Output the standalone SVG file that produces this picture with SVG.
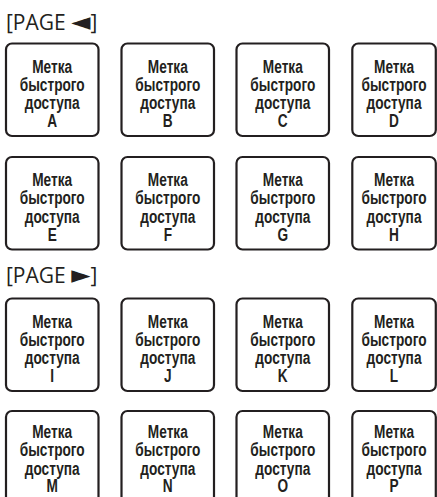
<svg xmlns="http://www.w3.org/2000/svg" width="437" height="497" viewBox="0 0 437 497">
<style>
.pad{fill:#ffffff;stroke:#231f20;stroke-width:2.2}
.lbl{font-family:"Liberation Sans",Arial,sans-serif;font-weight:bold;font-size:19px;fill:#231f20;text-anchor:middle}
.hdr{font-family:"Open Sans","DejaVu Sans",sans-serif;font-size:21px;fill:#231f20}
.tri{font-family:"DejaVu Sans",sans-serif;font-size:25px}
</style>
<rect width="437" height="497" fill="#ffffff"/>
<text class="hdr" x="6" y="30">[PAGE <tspan class="tri">◄</tspan>]</text>
<text class="hdr" x="6" y="283">[PAGE <tspan class="tri">►</tspan>]</text>
<g id="pad-A"><rect class="pad" x="6" y="43.5" width="92.5" height="92.5" rx="6"/><text class="lbl" transform="translate(52.2 43.5) scale(0.72 1)"><tspan x="0" y="29.5">Метка</tspan><tspan x="0" y="47.5">быстрого</tspan><tspan x="0" y="66">доступа</tspan><tspan x="0" y="84">A</tspan></text></g>
<g id="pad-B"><rect class="pad" x="121.5" y="43.5" width="92.5" height="92.5" rx="6"/><text class="lbl" transform="translate(167.8 43.5) scale(0.72 1)"><tspan x="0" y="29.5">Метка</tspan><tspan x="0" y="47.5">быстрого</tspan><tspan x="0" y="66">доступа</tspan><tspan x="0" y="84">B</tspan></text></g>
<g id="pad-C"><rect class="pad" x="236.5" y="43.5" width="92.5" height="92.5" rx="6"/><text class="lbl" transform="translate(282.8 43.5) scale(0.72 1)"><tspan x="0" y="29.5">Метка</tspan><tspan x="0" y="47.5">быстрого</tspan><tspan x="0" y="66">доступа</tspan><tspan x="0" y="84">C</tspan></text></g>
<g id="pad-D"><rect class="pad" x="352.3" y="43.5" width="83.5" height="92.5" rx="6"/><text class="lbl" transform="translate(394 43.5) scale(0.72 1)"><tspan x="0" y="29.5">Метка</tspan><tspan x="0" y="47.5">быстрого</tspan><tspan x="0" y="66">доступа</tspan><tspan x="0" y="84">D</tspan></text></g>
<g id="pad-E"><rect class="pad" x="6" y="157" width="92.5" height="92.5" rx="6"/><text class="lbl" transform="translate(52.2 157) scale(0.72 1)"><tspan x="0" y="29.5">Метка</tspan><tspan x="0" y="47.5">быстрого</tspan><tspan x="0" y="66">доступа</tspan><tspan x="0" y="84">E</tspan></text></g>
<g id="pad-F"><rect class="pad" x="121.5" y="157" width="92.5" height="92.5" rx="6"/><text class="lbl" transform="translate(167.8 157) scale(0.72 1)"><tspan x="0" y="29.5">Метка</tspan><tspan x="0" y="47.5">быстрого</tspan><tspan x="0" y="66">доступа</tspan><tspan x="0" y="84">F</tspan></text></g>
<g id="pad-G"><rect class="pad" x="236.5" y="157" width="92.5" height="92.5" rx="6"/><text class="lbl" transform="translate(282.8 157) scale(0.72 1)"><tspan x="0" y="29.5">Метка</tspan><tspan x="0" y="47.5">быстрого</tspan><tspan x="0" y="66">доступа</tspan><tspan x="0" y="84">G</tspan></text></g>
<g id="pad-H"><rect class="pad" x="352.3" y="157" width="83.5" height="92.5" rx="6"/><text class="lbl" transform="translate(394 157) scale(0.72 1)"><tspan x="0" y="29.5">Метка</tspan><tspan x="0" y="47.5">быстрого</tspan><tspan x="0" y="66">доступа</tspan><tspan x="0" y="84">H</tspan></text></g>
<g id="pad-I"><rect class="pad" x="6" y="298.5" width="92.5" height="92.5" rx="6"/><text class="lbl" transform="translate(52.2 298.5) scale(0.72 1)"><tspan x="0" y="29.5">Метка</tspan><tspan x="0" y="47.5">быстрого</tspan><tspan x="0" y="66">доступа</tspan><tspan x="0" y="84">I</tspan></text></g>
<g id="pad-J"><rect class="pad" x="121.5" y="298.5" width="92.5" height="92.5" rx="6"/><text class="lbl" transform="translate(167.8 298.5) scale(0.72 1)"><tspan x="0" y="29.5">Метка</tspan><tspan x="0" y="47.5">быстрого</tspan><tspan x="0" y="66">доступа</tspan><tspan x="0" y="84">J</tspan></text></g>
<g id="pad-K"><rect class="pad" x="236.5" y="298.5" width="92.5" height="92.5" rx="6"/><text class="lbl" transform="translate(282.8 298.5) scale(0.72 1)"><tspan x="0" y="29.5">Метка</tspan><tspan x="0" y="47.5">быстрого</tspan><tspan x="0" y="66">доступа</tspan><tspan x="0" y="84">K</tspan></text></g>
<g id="pad-L"><rect class="pad" x="352.3" y="298.5" width="83.5" height="92.5" rx="6"/><text class="lbl" transform="translate(394 298.5) scale(0.72 1)"><tspan x="0" y="29.5">Метка</tspan><tspan x="0" y="47.5">быстрого</tspan><tspan x="0" y="66">доступа</tspan><tspan x="0" y="84">L</tspan></text></g>
<g id="pad-M"><rect class="pad" x="6" y="411" width="92.5" height="92.5" rx="6"/><text class="lbl" transform="translate(52.2 411) scale(0.72 1)"><tspan x="0" y="27.5">Метка</tspan><tspan x="0" y="45.5">быстрого</tspan><tspan x="0" y="64">доступа</tspan><tspan x="0" y="81">M</tspan></text></g>
<g id="pad-N"><rect class="pad" x="121.5" y="411" width="92.5" height="92.5" rx="6"/><text class="lbl" transform="translate(167.8 411) scale(0.72 1)"><tspan x="0" y="27.5">Метка</tspan><tspan x="0" y="45.5">быстрого</tspan><tspan x="0" y="64">доступа</tspan><tspan x="0" y="81">N</tspan></text></g>
<g id="pad-O"><rect class="pad" x="236.5" y="411" width="92.5" height="92.5" rx="6"/><text class="lbl" transform="translate(282.8 411) scale(0.72 1)"><tspan x="0" y="27.5">Метка</tspan><tspan x="0" y="45.5">быстрого</tspan><tspan x="0" y="64">доступа</tspan><tspan x="0" y="81">O</tspan></text></g>
<g id="pad-P"><rect class="pad" x="352.3" y="411" width="83.5" height="92.5" rx="6"/><text class="lbl" transform="translate(394 411) scale(0.72 1)"><tspan x="0" y="27.5">Метка</tspan><tspan x="0" y="45.5">быстрого</tspan><tspan x="0" y="64">доступа</tspan><tspan x="0" y="81">P</tspan></text></g>
</svg>
